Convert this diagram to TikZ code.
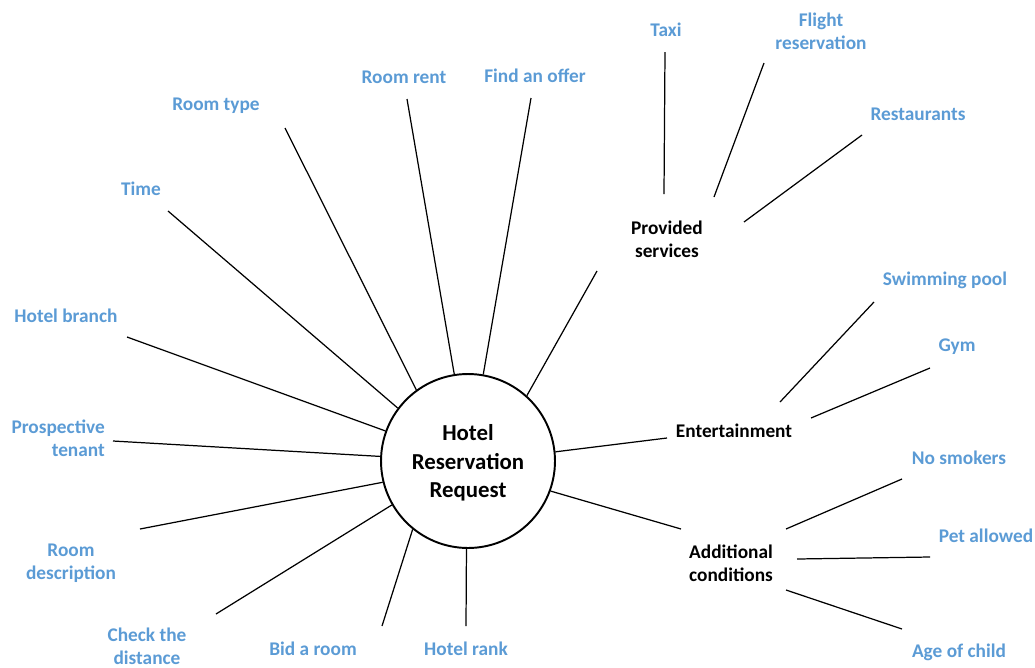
\documentclass[tikz,border=0pt]{standalone}
\usepackage{fontspec}
\setmainfont{Carlito}
\usepackage{tikz}
\definecolor{leafblue}{HTML}{5B9BD5}
\tikzset{my leaf/.style={
  text=leafblue,
  font=\bfseries\fontsize{11}{13}\selectfont,
  align=center
  }
}
\tikzset{my branch/.style={
  text=black,
  font=\bfseries\fontsize{11}{13}\selectfont,
  align=center
  }
}
\tikzset{my spoke/.style={
  black,
  line width=0.7pt
  }
}

\begin{document}
\begin{tikzpicture}[x=0.02cm,y=-0.02cm]
    \useasboundingbox (0,0) rectangle (1035,667);

    \node[draw,circle,line width=1.1pt,minimum size=3.48cm,font=\bfseries\fontsize{13}{16}\selectfont,align=center,text depth=0pt] (hub) at (468,461) {Hotel\\Reservation\\Request};

    % labels round the hub
    \foreach \x/\y/\i [count=\n] in {66/316/{Hotel branch},71/563/{Room\\description},147/646/{Check the\\distance},313/649/{Bid a room},466/649/{Hotel rank},141/189/{Time},216/106/{Room type},404/77/{Room rent},535/76/{Find an offer}}
        \node[my leaf] (L\n) at (\x,\y) {\i};
    \node[my leaf,align=right,anchor=east] (prosp) at (111,438) {Prospective\\tenant};

    \node[my branch] (serv) at (667,239) {Provided\\services};
    \node[my branch] (ent) at (734,431) {Entertainment};
    \node[my branch] (cond) at (731,563) {Additional\\conditions};

    \foreach \x/\y/\i [count=\n] in {666/30/{Taxi},821/31/{Flight\\reservation},918/114/{Restaurants},945/280/{Swimming pool},957/347/{Gym},959/458/{No smokers},986/536/{Pet allowed},959/652/{Age of child}}
        \node[my leaf] (R\n) at (\x,\y) {\i};

    % spokes from the hub
    \foreach \x/\y/\a [count=\n] in {168/211/143,285/128/126,407/99/99,531/98/80,597/271/48,667/438/6,681/529/-20,466/626/269,382/626/231,216/614/210,140/529/194.5,113/441/177,127/337/160.5}
    {
        \coordinate (E\n) at (\x,\y);
        \draw[my spoke] (E\n) -- (hub.\a);
    }

    % second level
    \foreach \xa/\ya/\xb/\yb [count=\n] in {665/52/664/194,764/63/714/197,862/135/744/222,874/302/780/402,930/368/811/418,902/479/786/529,930/557/797/559,902/629/786/590}
    {
        \coordinate (S\n) at (\xa,\ya);
        \coordinate (T\n) at (\xb,\yb);
        \draw[my spoke] (S\n) -- (T\n);
    }
\end{tikzpicture}
\end{document}
